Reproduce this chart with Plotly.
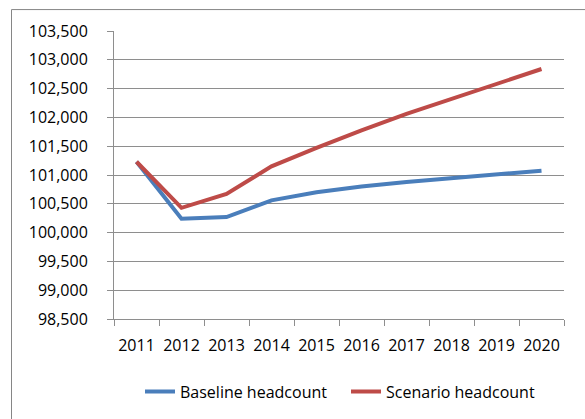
import plotly.graph_objects as go

years = ["2011", "2012", "2013", "2014", "2015", "2016", "2017", "2018", "2019", "2020"]
baseline = [101230, 100240, 100270, 100560, 100700, 100800, 100880, 100950, 101010, 101075]
scenario = [101230, 100430, 100670, 101150, 101470, 101775, 102060, 102315, 102575, 102840]

blue = "#4A7EBB"
red = "#BE4B48"
grid = "#8E8E8E"
font = dict(family="Open Sans", size=16, color="#000000")

fig = go.Figure()
fig.add_trace(go.Scatter(x=years, y=baseline, mode="lines", name="Baseline headcount",
                         line=dict(color=blue, width=4)))
fig.add_trace(go.Scatter(x=years, y=scenario, mode="lines", name="Scenario headcount",
                         line=dict(color=red, width=4)))

W, H = 585, 419
L, R, T, B = 114, 21, 31, 99
pw, ph = W - L - R, H - T - B

def px(x):
    return (x - L) / pw

def py(y):
    return (H - B - y) / ph

fig.update_layout(
    width=W, height=H,
    margin=dict(l=L, r=R, t=T, b=B),
    paper_bgcolor="white", plot_bgcolor="white",
    font=font,
    showlegend=True,
    legend=dict(orientation="h", x=px(140), xanchor="left", y=py(391.7), yanchor="middle",
                font=font, entrywidth=161, entrywidthmode="pixels",
                bgcolor="rgba(0,0,0,0)"),
    xaxis=dict(type="category", range=[-0.5, 9.5], showline=True, linecolor=grid, linewidth=1,
               ticks="outside", ticklen=6, tickcolor=grid, tickson="boundaries", tickangle=0,
               showgrid=False, tickfont=font, ticklabelstandoff=12),
    yaxis=dict(range=[98500, 103500], dtick=500, tickformat=",d", showline=True, linecolor=grid,
               linewidth=1, ticks="outside", ticklen=6, tickcolor=grid, showgrid=True,
               gridcolor=grid, gridwidth=1, tickfont=font, ticklabelstandoff=16, zeroline=False),
    shapes=[dict(type="rect", xref="paper", yref="paper",
                 x0=px(11.5), x1=px(600), y0=py(440), y1=py(9.5),
                 line=dict(color="#868686", width=1), layer="below")],
)

fig.write_html("out.html")
